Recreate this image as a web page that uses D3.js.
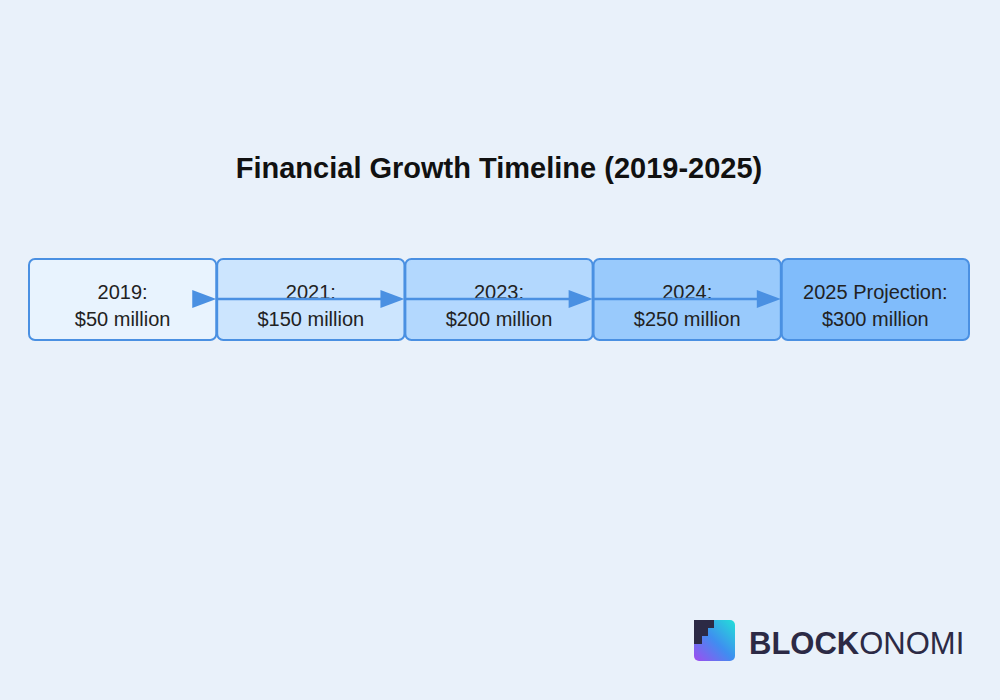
<!DOCTYPE html>
<html><head><meta charset="utf-8">
<script src="https://cdn.jsdelivr.net/npm/d3@7"></script>
<style>body{margin:0;background:#e9f1fa;font-family:Arial,"Liberation Sans",sans-serif}</style>
</head><body><div id="chart"></div>
<script>
// timeline data
var years = ["2019:", "2021:", "2023:", "2024:", "2025 Projection:"];
var amounts = ["$50 million", "$150 million", "$200 million", "$250 million", "$300 million"];
var fills = ["#e8f3fe", "#cce5fe", "#b3d8fe", "#99cafc", "#80bcfb"];

var width = 1000, height = 700;
var svg = d3.select("#chart").append("svg")
  .attr("width", width).attr("height", height);

svg.append("rect").attr("width", width).attr("height", height).attr("fill", "#e9f1fa");

svg.append("text")
  .attr("x", 499).attr("y", 178)
  .attr("text-anchor", "middle")
  .attr("font-size", "29px").attr("font-weight", "bold").attr("fill", "#111")
  .text("Financial Growth Timeline (2019-2025)");

var x = d3.scaleBand().domain(d3.range(years.length)).range([29, 969]).paddingInner(0.005);
var y0 = 259, bh = 81, stroke = "#4a90e2";

var g = svg.selectAll("g.node").data(years).enter().append("g");

g.append("rect")
  .attr("x", (d, i) => x(i)).attr("y", y0)
  .attr("width", x.bandwidth()).attr("height", bh)
  .attr("rx", 6)
  .attr("fill", (d, i) => fills[i])
  .attr("stroke", stroke).attr("stroke-width", 2);

g.append("text")
  .attr("x", (d, i) => x(i) + x.bandwidth() / 2).attr("y", 299)
  .attr("text-anchor", "middle").attr("font-size", "20px").attr("fill", "#222")
  .text(d => d);
g.append("text")
  .attr("x", (d, i) => x(i) + x.bandwidth() / 2).attr("y", 326)
  .attr("text-anchor", "middle").attr("font-size", "20px").attr("fill", "#222")
  .text((d, i) => amounts[i]);

// arrows
var arrows = svg.append("g");
d3.range(years.length - 1).forEach(function(i) {
  var xe = x(i) + x.bandwidth();
  if (i > 0) {
    arrows.append("line")
      .attr("x1", x(i)).attr("x2", xe - 20).attr("y1", 299).attr("y2", 299)
      .attr("stroke", stroke).attr("stroke-width", 2.5);
  }
  arrows.append("path")
    .attr("d", "M" + (xe - 24) + "," + 290 + "L" + xe + "," + 299 + "L" + (xe - 24) + "," + 308 + "Z")
    .attr("fill", stroke);
});

// watermark
var logo = svg.append("g");
var grad = svg.append("defs").append("linearGradient").attr("id", "lg")
  .attr("x1", 0).attr("y1", 1).attr("x2", 1).attr("y2", 0);
grad.append("stop").attr("offset", 0).attr("stop-color", "#a04cf0");
grad.append("stop").attr("offset", 0.5).attr("stop-color", "#3f8ef0");
grad.append("stop").attr("offset", 1).attr("stop-color", "#22e0d8");
logo.append("rect").attr("x", 694).attr("y", 620).attr("width", 41).attr("height", 41).attr("rx", 5).attr("fill", "url(#lg)");
logo.append("path").attr("d", "M694,620 H714 V628 H708 V636 H702 V644 H694 Z").attr("fill", "#2c2a45");
logo.append("text").attr("x", 749).attr("y", 654)
  .attr("font-size", "31px").attr("fill", "#2c2a45")
  .html('<tspan font-weight="bold">BLOCK</tspan><tspan>ONOMI</tspan>');
</script></body></html>
